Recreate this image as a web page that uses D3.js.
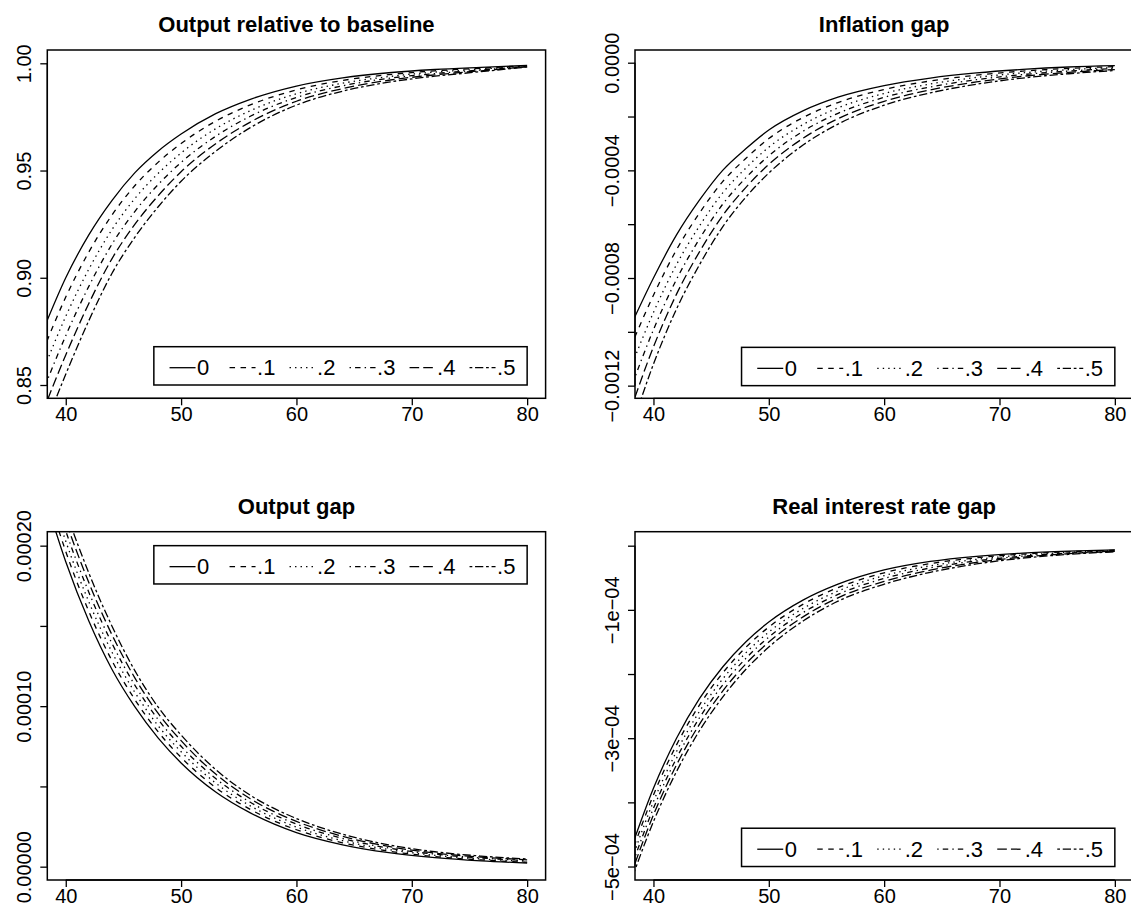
<!DOCTYPE html>
<html>
<head>
<meta charset="utf-8">
<script src="https://cdn.jsdelivr.net/npm/d3@7"></script>
<style>
  html, body { margin: 0; padding: 0; background: #fff; }
  svg text { font-family: "Liberation Sans", Arial, Helvetica, sans-serif; fill: #000; }
</style>
</head>
<body>
<svg id="chart" width="1131" height="910"></svg>
<script>
// ---------------- DATA ----------------
const xs = [38, 40, 42, 44, 46, 48, 50, 53, 56, 60, 64, 68, 72, 76, 80];
const seriesNames = ["0", ".1", ".2", ".3", ".4", ".5"];
const titles = ["Output relative to baseline", "Inflation gap", "Output gap", "Real interest rate gap"];
const xTicks = [40, 50, 60, 70, 80];

// Output relative to baseline
const outputRelative = [
  [0.875, 0.900, 0.920, 0.936, 0.949, 0.959, 0.967, 0.9765, 0.9832, 0.9894, 0.9932, 0.9956, 0.9971, 0.9981, 0.9990],
  [0.8656, 0.891, 0.912, 0.9292, 0.943, 0.9538, 0.9626, 0.973, 0.9806, 0.9876, 0.9920, 0.9947, 0.9965, 0.9977, 0.9989],
  [0.8562, 0.882, 0.904, 0.9224, 0.937, 0.9486, 0.9582, 0.9695, 0.9779, 0.9858, 0.9907, 0.9938, 0.9959, 0.9973, 0.9987],
  [0.8468, 0.873, 0.896, 0.9156, 0.931, 0.9434, 0.9538, 0.966, 0.9753, 0.9841, 0.9895, 0.9930, 0.9952, 0.9969, 0.9986],
  [0.8374, 0.864, 0.888, 0.9088, 0.925, 0.9382, 0.9494, 0.9625, 0.9726, 0.9823, 0.9882, 0.9921, 0.9946, 0.9965, 0.9984],
  [0.828, 0.855, 0.880, 0.902, 0.919, 0.933, 0.945, 0.959, 0.970, 0.9805, 0.987, 0.9912, 0.994, 0.9961, 0.9983]
];
// Inflation gap
const inflationGap = [
  [-0.00098, -0.00080, -0.00064, -0.00051, -0.00040, -0.00032, -0.00025, -0.000178, -0.000128, -0.000085, -0.000057, -0.000038, -0.000025, -0.000016, -0.000011],
  [-0.001058, -0.000864, -0.000695, -0.000558, -0.000442, -0.000356, -0.000282, -0.000203, -0.000148, -0.0000996, -0.000068, -0.0000464, -0.0000314, -0.000021, -0.0000146],
  [-0.001136, -0.000928, -0.00075, -0.000606, -0.000484, -0.000392, -0.000314, -0.000229, -0.000168, -0.0001142, -0.000079, -0.0000548, -0.0000378, -0.000026, -0.0000182],
  [-0.001214, -0.000992, -0.000805, -0.000654, -0.000526, -0.000428, -0.000346, -0.000254, -0.000188, -0.0001288, -0.00009, -0.0000632, -0.0000442, -0.000031, -0.0000218],
  [-0.001292, -0.001056, -0.00086, -0.000702, -0.000568, -0.000464, -0.000378, -0.00028, -0.000208, -0.0001434, -0.000101, -0.0000716, -0.0000506, -0.000036, -0.0000254],
  [-0.00137, -0.00112, -0.000915, -0.00075, -0.00061, -0.0005, -0.00041, -0.000305, -0.000228, -0.000158, -0.000112, -0.000080, -0.000057, -0.000041, -0.000029]
];
// Output gap
const outputGap = [
  [0.000235, 0.000190, 0.000153, 0.000123, 0.0000995, 0.0000802, 0.0000646, 0.0000465, 0.0000335, 0.0000212, 0.0000136, 0.0000087, 0.0000056, 0.0000036, 0.0000023],
  [0.000242, 0.0001964, 0.000159, 0.0001284, 0.000104, 0.0000841, 0.0000681, 0.0000493, 0.0000357, 0.0000230, 0.0000149, 0.0000097, 0.0000063, 0.0000042, 0.0000028],
  [0.000249, 0.0002028, 0.000165, 0.0001338, 0.0001085, 0.0000879, 0.0000716, 0.0000521, 0.0000379, 0.0000247, 0.0000162, 0.0000107, 0.0000071, 0.0000048, 0.0000033],
  [0.000256, 0.0002092, 0.000171, 0.0001392, 0.000113, 0.0000918, 0.000075, 0.0000549, 0.0000401, 0.0000265, 0.0000176, 0.0000116, 0.0000078, 0.0000054, 0.0000038],
  [0.000263, 0.0002156, 0.000177, 0.0001446, 0.0001175, 0.0000956, 0.0000785, 0.0000577, 0.0000423, 0.0000282, 0.0000189, 0.0000126, 0.0000085, 0.000006, 0.0000043],
  [0.000270, 0.000222, 0.000183, 0.000150, 0.000122, 0.0000995, 0.000082, 0.0000605, 0.0000445, 0.000030, 0.0000202, 0.0000136, 0.0000093, 0.0000066, 0.0000048]
];
// Real interest rate gap
const realRateGap = [
  [-0.000475, -0.000378, -0.000300, -0.000238, -0.000189, -0.000150, -0.000119, -0.0000845, -0.000060, -0.0000378, -0.0000245, -0.0000165, -0.0000115, -0.0000085, -0.0000065],
  [-0.000485, -0.0003884, -0.0003104, -0.000248, -0.0001984, -0.0001586, -0.0001268, -0.000091, -0.0000653, -0.0000422, -0.0000279, -0.0000189, -0.0000131, -0.0000095, -0.0000071],
  [-0.000495, -0.0003988, -0.0003208, -0.000258, -0.0002078, -0.0001672, -0.0001346, -0.0000975, -0.0000706, -0.0000467, -0.0000313, -0.0000213, -0.0000147, -0.0000105, -0.0000077],
  [-0.000505, -0.0004092, -0.0003312, -0.000268, -0.0002172, -0.0001758, -0.0001424, -0.000104, -0.0000759, -0.0000511, -0.0000347, -0.0000237, -0.0000163, -0.0000115, -0.0000083],
  [-0.000515, -0.0004196, -0.0003416, -0.000278, -0.0002266, -0.0001844, -0.0001502, -0.0001105, -0.0000812, -0.0000556, -0.0000381, -0.0000261, -0.0000179, -0.0000125, -0.0000089],
  [-0.000525, -0.000430, -0.000352, -0.000288, -0.000236, -0.000193, -0.000158, -0.000117, -0.0000865, -0.0000600, -0.0000415, -0.0000285, -0.0000195, -0.0000135, -0.0000095]
];

const yTicks1 = [0.85, 0.90, 0.95, 1.00];
const yLabels1 = ["0.85", "0.90", "0.95", "1.00"];
const yTicks2 = [-0.0012, -0.0010, -0.0008, -0.0006, -0.0004, -0.0002, 0];
const yLabels2 = ["\u22120.0012", "", "\u22120.0008", "", "\u22120.0004", "", "0.0000"];
const yTicks3 = [0, 0.00005, 0.0001, 0.00015, 0.0002];
const yLabels3 = ["0.00000", "", "0.00010", "", "0.00020"];
const yTicks4 = [-0.0005, -0.0004, -0.0003, -0.0002, -0.0001, 0];
const yLabels4 = ["\u22125e\u221204", "", "\u22123e\u221204", "", "\u22121e\u221204", ""];

// ---------------- LAYOUT / STYLE ----------------
const dashes = ["none", "5.5,5.5", "1.4,4.1", "1.4,4.1,5.5,4.1", "9.6,4.1", "2.75,2.75,8.25,2.75"];
const xDomain = [38.4, 81.6];
const panels = [
  { title: titles[0], data: outputRelative, left: 47.3, top: 50, yDomain: [0.8438, 1.0062], yTicks: yTicks1, yLabels: yLabels1, legend: "bottom", legendY: 0.85 },
  { title: titles[1], data: inflationGap, left: 635, top: 50, yDomain: [-0.001247, 0.0000472], yTicks: yTicks2, yLabels: yLabels2, legend: "bottom", legendY: -0.0012 },
  { title: titles[2], data: outputGap, left: 47.3, top: 531.7, yDomain: [-0.0000083, 0.0002087], yTicks: yTicks3, yLabels: yLabels3, legend: "top", legendY: 0.0002 },
  { title: titles[3], data: realRateGap, left: 635, top: 531.7, yDomain: [-0.000521, 0.0000218], yTicks: yTicks4, yLabels: yLabels4, legend: "bottom", legendY: -0.0005 }
];
const W = 498.3, H = 348.3;
const svg = d3.select("#chart");
const defs = svg.append("defs");

panels.forEach((p, pi) => {
  const x = d3.scaleLinear().domain(xDomain).range([p.left, p.left + W]);
  const y = d3.scaleLinear().domain(p.yDomain).range([p.top + H, p.top]);
  const g = svg.append("g");

  defs.append("clipPath").attr("id", "clip" + pi)
    .append("rect").attr("x", p.left).attr("y", p.top).attr("width", W).attr("height", H);

  // curves
  const line = d3.line().x((d, i) => x(xs[i])).y(d => y(d)).curve(d3.curveMonotoneX);
  const cg = g.append("g").attr("clip-path", `url(#clip${pi})`);
  p.data.forEach((s, si) => {
    cg.append("path").attr("d", line(s))
      .attr("fill", "none").attr("stroke", "#000").attr("stroke-width", 1.3)
      .attr("stroke-dasharray", dashes[si]);
  });

  // box
  g.append("rect").attr("x", p.left).attr("y", p.top).attr("width", W).attr("height", H)
    .attr("fill", "none").attr("stroke", "#000").attr("stroke-width", 1.5);

  // x axis
  const xAxis = d3.axisBottom(x).tickValues(xTicks).tickSize(7).tickSizeOuter(0).tickFormat(d3.format("d"));
  const xa = g.append("g").attr("transform", `translate(0,${p.top + H})`).call(xAxis);
  xa.select(".domain").attr("d", `M${x(xTicks[0])},0H${x(xTicks[xTicks.length - 1])}`).attr("stroke-width", 1.3);
  xa.selectAll(".tick line").attr("stroke-width", 1.3);
  xa.selectAll(".tick text").attr("font-size", 20).attr("y", 16).attr("dy", "0.35em")
    .style("font-family", '"Liberation Sans", Arial, sans-serif');

  // y axis
  const yAxis = d3.axisLeft(y).tickValues(p.yTicks).tickSize(7).tickSizeOuter(0)
    .tickFormat((d, i) => p.yLabels[i]);
  const ya = g.append("g").attr("transform", `translate(${p.left},0)`).call(yAxis);
  ya.select(".domain").attr("d", `M0,${y(p.yTicks[0])}V${y(p.yTicks[p.yTicks.length - 1])}`).attr("stroke-width", 1.3);
  ya.selectAll(".tick line").attr("stroke-width", 1.3);
  ya.selectAll(".tick text")
    .attr("font-size", 20)
    .attr("x", null).attr("dy", null)
    .attr("text-anchor", "middle")
    .attr("dominant-baseline", "central")
    .attr("transform", "translate(-23.5,0) rotate(-90)")
    .style("font-family", '"Liberation Sans", Arial, sans-serif');

  // title
  g.append("text").attr("x", p.left + W / 2).attr("y", p.top - 18)
    .attr("text-anchor", "middle").attr("font-size", 22).attr("font-weight", "bold")
    .text(p.title);

  // legend
  const lw = 373.3, lh = 38.3;
  const lRight = x(80);
  const lLeft = lRight - lw;
  const lTop = p.legend === "bottom" ? y(p.legendY) - lh : y(p.legendY);
  const lg = g.append("g");
  lg.append("rect").attr("x", lLeft).attr("y", lTop).attr("width", lw).attr("height", lh)
    .attr("fill", "#fff").attr("stroke", "#000").attr("stroke-width", 1.5);
  seriesNames.forEach((nm, si) => {
    const x0 = lLeft + 15.7 + 60 * si;
    const ly = lTop + 21;
    lg.append("line").attr("x1", x0).attr("x2", x0 + 26).attr("y1", ly).attr("y2", ly)
      .attr("stroke", "#000").attr("stroke-width", 1.3).attr("stroke-dasharray", dashes[si]);
    lg.append("text").attr("x", x0 + 27.5).attr("y", ly).attr("dominant-baseline", "central")
      .attr("font-size", 22).text(nm);
  });
});
</script>
</body>
</html>
